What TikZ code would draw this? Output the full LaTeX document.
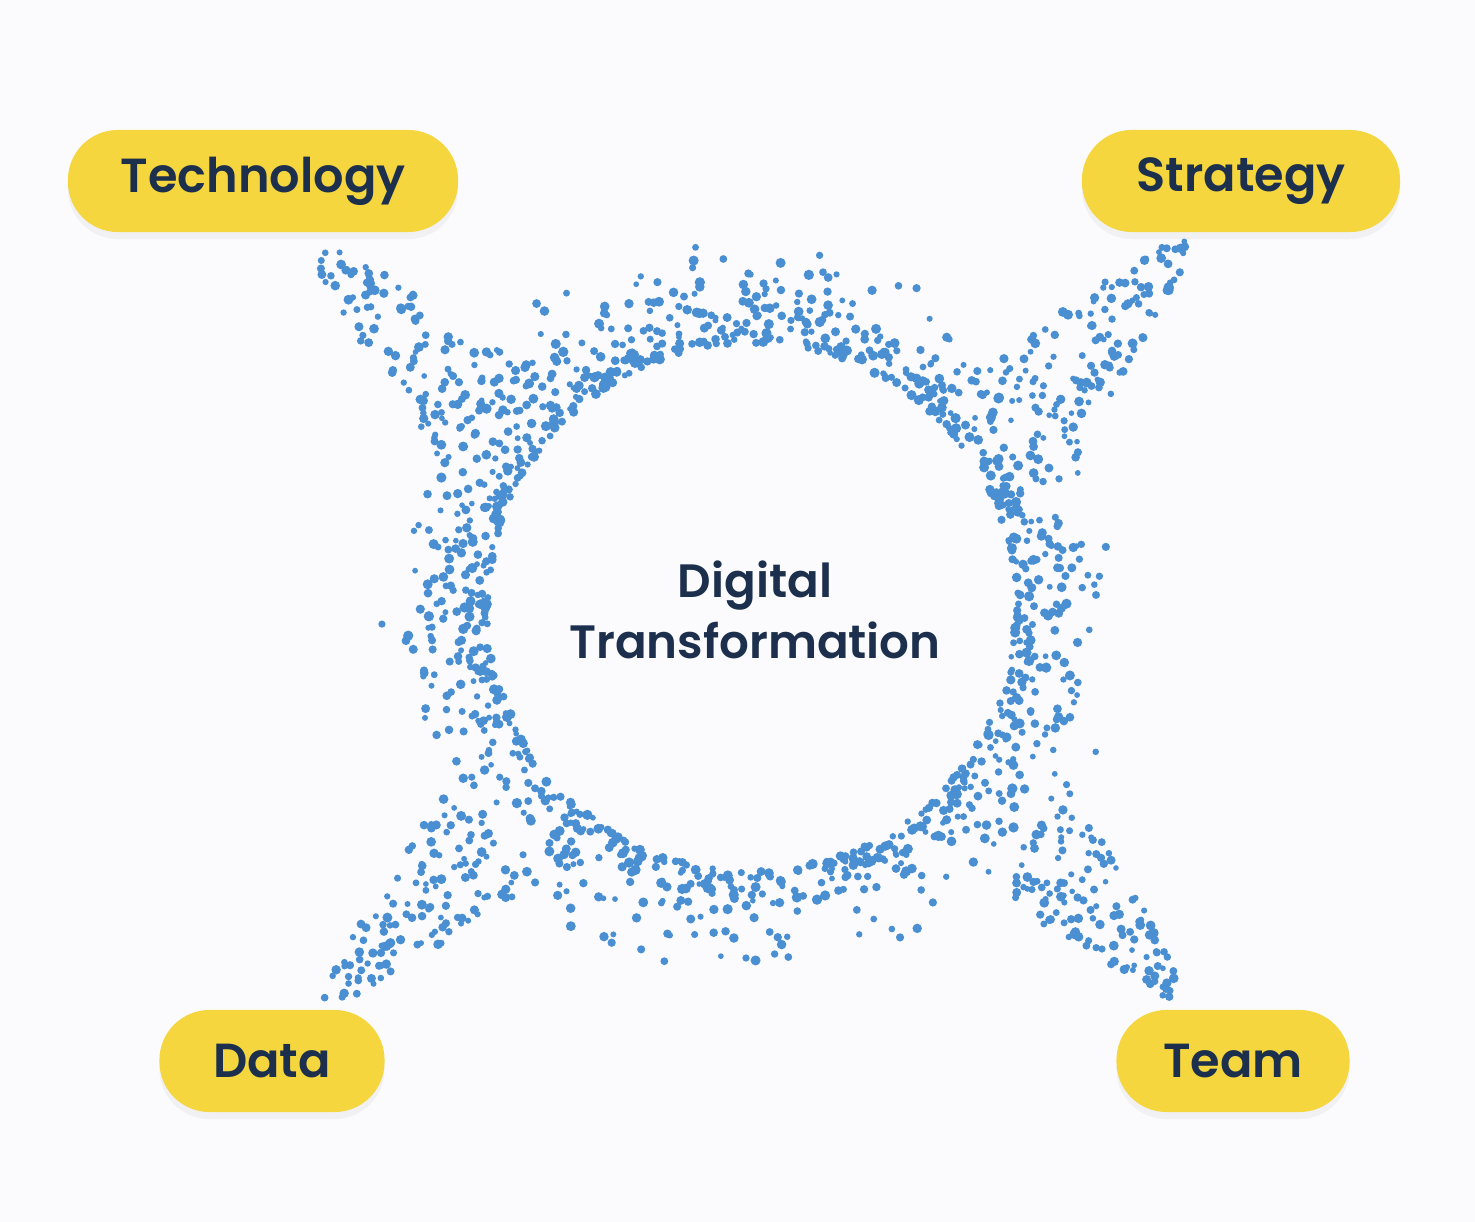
\documentclass[tikz,border=0pt]{standalone}
\usepackage{fontspec}
\setmainfont{Poppins}[BoldFont={Poppins SemiBold}]
\usetikzlibrary{shadows}
\definecolor{pillyellow}{HTML}{F5D63F}
\definecolor{navytext}{HTML}{1C2F4D}
\definecolor{dotblue}{HTML}{4A8FD2}
\definecolor{paper}{HTML}{FBFBFD}
\tikzstyle{pill}=[shape=rectangle,fill=pillyellow,rounded corners=0.5cm,minimum height=1.02cm,text=navytext,font=\bfseries\fontsize{13.6}{17}\selectfont,drop shadow={opacity=0.08,shadow xshift=0cm,shadow yshift=-0.07cm}]
\tikzstyle{dotfill}=[fill=dotblue]
\tikzstyle{centertext}=[align=center,text=navytext,font=\bfseries\fontsize{13.3}{17.3}\selectfont]

\begin{document}
\begin{tikzpicture}[x=0.01cm,y=-0.01cm]
\pgfmathsetseed{4217}
\fill[paper] (0,0) rectangle (1475,1222);
\useasboundingbox (0,0) rectangle (1475,1222);
% ring of dots
\foreach \i in {1,...,1150}{
  \pgfmathsetmacro{\a}{360*rnd}
  \pgfmathsetmacro{\r}{264+115*rnd*rnd}
  \pgfmathsetmacro{\s}{2.8+2.4*rnd}
  \fill[dotfill] (752,607) ++(\a:\r) circle (\s);
}
% streams to the four corners
\foreach \px/\py/\qx/\qy in {305/240/495/420, 1185/240/1025/415, 325/1000/495/835, 1185/995/1025/840}{
  \pgfmathsetmacro{\len}{veclen(\qx-\px,\qy-\py)}
  \foreach \j in {1,...,125}{
    \pgfmathsetmacro{\t}{rnd^0.75}
    \pgfmathsetmacro{\w}{(12+55*\t)*(2*rnd-1)}
    \pgfmathsetmacro{\s}{2.8+2.2*rnd}
    \fill[dotfill] ({\px+\t*(\qx-\px)-\w*(\qy-\py)/\len},{\py+\t*(\qy-\py)+\w*(\qx-\px)/\len}) circle (\s);
  }
}
% pills
\node[pill,minimum width=3.9cm] (tech) at (263,181) {Technology};
\node[pill,minimum width=3.18cm] (strat) at (1241,181) {Strategy};
\node[pill,minimum width=2.25cm] (data) at (272,1061) {Data};
\node[pill,minimum width=2.33cm] (team) at (1233,1061) {Team};
% centre
\node[centertext] (dt) at (755,610) {Digital\\Transformation};
\end{tikzpicture}
\end{document}
